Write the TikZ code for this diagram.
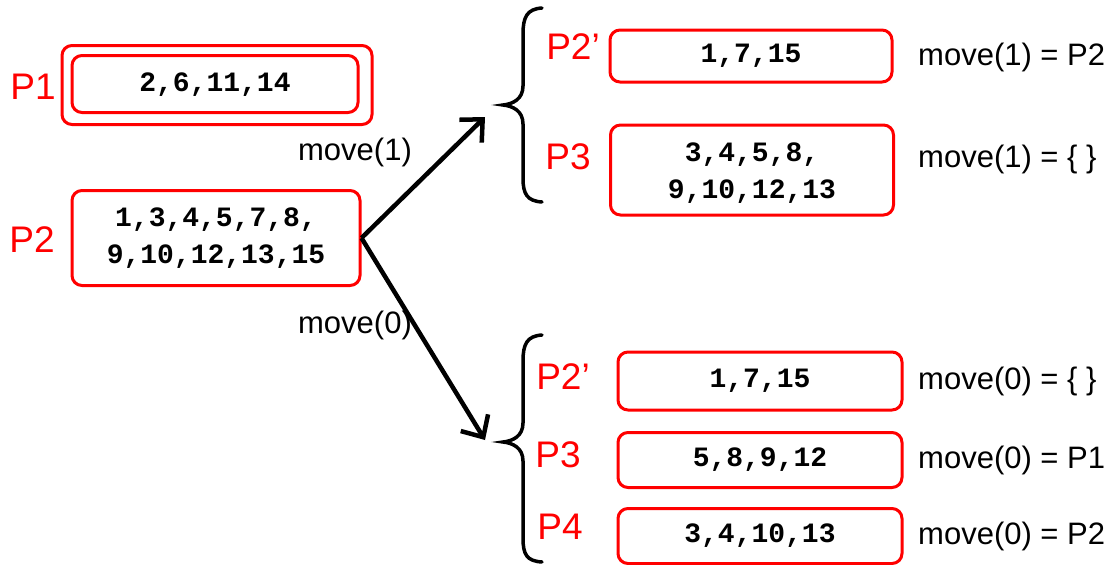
\documentclass[tikz,border=0pt]{standalone}
\usepackage{fontspec}
\setmainfont{Liberation Sans}
\newfontfamily\codefont{Liberation Mono}
\usetikzlibrary{arrows.meta}
\definecolor{setred}{RGB}{255,0,0}
\tikzset{
  setbox/.style={draw=setred, line width=3pt, rounded corners=10pt, inner sep=0pt},
  settext/.style={font=\codefont\bfseries\fontsize{28}{37}\selectfont, align=center},
  partlabel/.style={text=setred, font=\fontsize{37}{40}\selectfont, inner sep=0pt},
  movelabel/.style={font=\fontsize{31}{34}\selectfont, inner sep=0pt},
  bracket/.style={draw=black, line width=3.5pt, line cap=round},
  splitarrow/.style={draw=black, line width=4.5pt, -{Straight Barb[length=17pt,width=32pt,line width=4.5pt]}}
}
\begin{document}
\begin{tikzpicture}[x=1pt,y=-1pt]
\useasboundingbox (0,0) rectangle (1120,565);

% ---- left column: P1 and P2 ----
\node[setbox, minimum width=310pt, minimum height=79pt] (p1outer) at (217,85) {};
\node[setbox, minimum width=286pt, minimum height=57pt] (p1box) at (215,84) {};
\node[settext] (p1set) at (215,85) {2,6,11,14};
\node[partlabel] (p1lab) at (33,87) {P1};

\node[setbox, minimum width=288pt, minimum height=95pt] (p2box) at (216,238) {};
\node[settext] (p2set) at (216,238) {1,3,4,5,7,8,\\9,10,12,13,15};
\node[partlabel] (p2lab) at (32,240) {P2};

% ---- split arrows ----
\coordinate (up) at (485,117);
\coordinate (down) at (485,440);
\draw[splitarrow] (p2box.east) -- (up);
\draw[splitarrow] (p2box.east) -- (down);
\node[movelabel] (m1) at (355,152) {move(1)};
\node[movelabel] (m0) at (355,325) {move(0)};

% ---- upper brace and its parts ----
\draw[bracket] (542,8) .. controls (527,9) and (523,17) .. (523,34)
  -- (523,86) .. controls (523,99) and (513,104) .. (503,105)
  .. controls (513,106) and (523,111) .. (523,124)
  -- (523,178) .. controls (523,194) and (527,201) .. (542,202);

\node[setbox, minimum width=282pt, minimum height=52pt] (ua) at (751,56) {};
\node[settext] (uaset) at (751,56) {1,7,15};
\node[partlabel] (ualab) at (573,47) {P2'};
\node[movelabel, anchor=west] (uamove) at (918,57) {move(1) = P2};

\node[setbox, minimum width=283pt, minimum height=90pt] (ub) at (752,170) {};
\node[settext] (ubset) at (752,173) {3,4,5,8,\\9,10,12,13};
\node[partlabel] (ublab) at (568,157) {P3};
\node[movelabel, anchor=west] (ubmove) at (918,159) {move(1) = \{ \}};

% ---- lower brace and its parts ----
\draw[bracket] (542,335) .. controls (527,336) and (523,344) .. (523,361)
  -- (523,423) .. controls (523,436) and (513,441) .. (503,442)
  .. controls (513,443) and (523,448) .. (523,461)
  -- (523,538) .. controls (523,555) and (527,561) .. (542,562);

\node[setbox, minimum width=284pt, minimum height=58pt] (la) at (760,381) {};
\node[settext] (laset) at (760,381) {1,7,15};
\node[partlabel] (lalab) at (563,377) {P2'};
\node[movelabel, anchor=west] (lamove) at (918,381) {move(0) = \{ \}};

\node[setbox, minimum width=284pt, minimum height=55pt] (lb) at (760,460) {};
\node[settext] (lbset) at (760,460) {5,8,9,12};
\node[partlabel] (lblab) at (558,455) {P3};
\node[movelabel, anchor=west] (lbmove) at (918,460) {move(0) = P1};

\node[setbox, minimum width=284pt, minimum height=55pt] (lc) at (760,536) {};
\node[settext] (lcset) at (760,536) {3,4,10,13};
\node[partlabel] (lclab) at (560,527) {P4};
\node[movelabel, anchor=west] (lcmove) at (918,536) {move(0) = P2};
\end{tikzpicture}
\end{document}
